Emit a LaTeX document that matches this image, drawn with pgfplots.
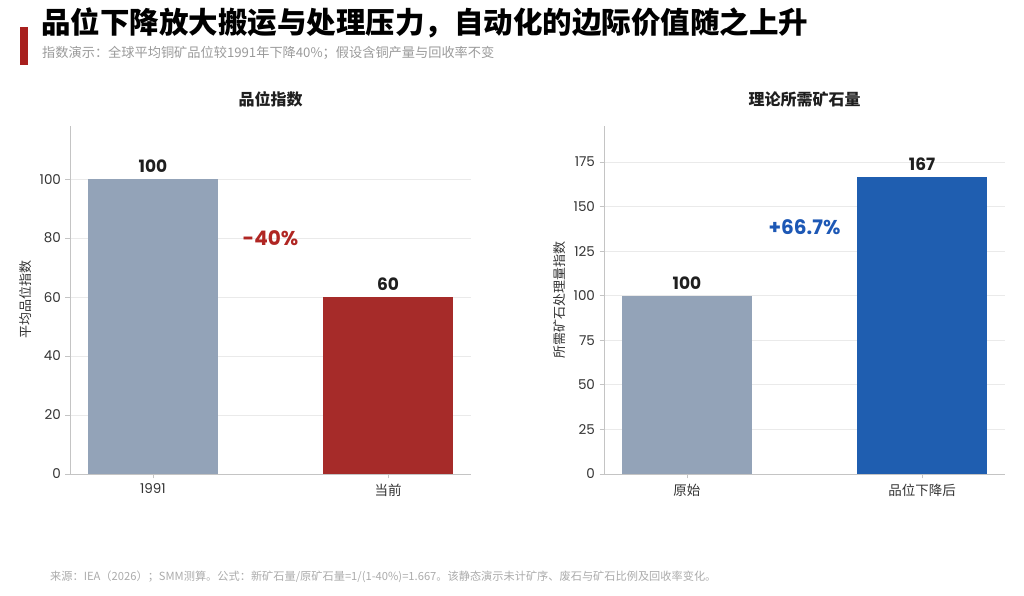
\documentclass[border=0pt]{standalone}
\usepackage{pgfplots}
\pgfplotsset{compat=1.18}
\usepackage{fontspec}
\setmainfont{Poppins}
\newfontfamily\cjk{Noto Sans CJK SC}
\definecolor{titlered}{HTML}{A8201E}
\definecolor{bargrey}{HTML}{93A3B8}
\definecolor{barred}{HTML}{A62B29}
\definecolor{barblue}{HTML}{1F5EB0}
\definecolor{annred}{HTML}{B02623}
\definecolor{annblue}{HTML}{1D58B5}
\definecolor{axisgrey}{HTML}{C4C4C4}
\definecolor{gridgrey}{HTML}{EAEAEA}
\definecolor{txt}{HTML}{333333}
\pgfplotsset{
  /pgf/number format/assume math mode=true,
  panel/.style={
    scale only axis, width=401pt, height=348pt,
    xmin=-0.353, xmax=1.353, ymin=0,
    xtick={0,1},
    axis x line*=bottom, axis y line*=left,
    axis line style={draw=axisgrey, line width=0.9pt, -},
    tick style={draw=axisgrey, line width=0.9pt},
    tick align=outside, major tick length=4.5pt,
    ymajorgrids, grid style={draw=gridgrey, line width=0.9pt},
    ticklabel style={font=\fontsize{13.5}{15}\selectfont, text=txt},
    yticklabel style={xshift=-1pt},
    xticklabel style={yshift=-2pt},
    title style={at={(0.5,1)}, anchor=center, yshift=21pt, font=\cjk\bfseries\fontsize{16}{19}\selectfont, text=black!88},
    every axis y label/.style={at={(axis description cs:-0.11,0.5)}, rotate=90, anchor=center, font=\cjk\fontsize{13}{15}\selectfont, text=txt},
    ybar, bar width=0.55,
    nodes near coords,
    every node near coord/.append style={font=\bfseries\fontsize{17}{20}\selectfont, text=black!88, anchor=south, yshift=3pt, /pgf/number format/fixed, /pgf/number format/precision=0},
  },
}
\begin{document}
\begin{tikzpicture}
\path (0pt,0pt) rectangle (1024pt,596pt);
% header
\fill[titlered] (20pt,531pt) rectangle (28pt,569pt);
\node[anchor=west, inner sep=0pt] at (41pt,573pt) {\cjk\bfseries\fontsize{29.5}{32}\selectfont 品位下降放大搬运与处理压力，自动化的边际价值随之上升};
\node[anchor=west, inner sep=0pt] at (42pt,543pt) {\cjk\fontsize{13.2}{15}\selectfont\color[HTML]{9A9A9A} 指数演示：全球平均铜矿品位较1991年下降40\%；假设含铜产量与回收率不变};
\node[anchor=west, inner sep=0pt] at (50pt,19pt) {\cjk\fontsize{11.2}{13}\selectfont\color[HTML]{ABABAB} 来源：IEA（2026）；SMM测算。公式：新矿石量/原矿石量=1/(1-40\%)=1.667。该静态演示未计矿序、废石与矿石比例及回收率变化。};
% left panel
\begin{axis}[panel, at={(70pt,122pt)}, anchor=south west,
  ymax=118, ytick={0,20,40,60,80,100},
  xticklabels={1991,{\cjk 当前}},
  title={品位指数}, ylabel={平均品位指数}]
\addplot[fill=bargrey, draw=none, bar shift=0pt] coordinates {(0,100)};
\addplot[fill=barred, draw=none, bar shift=0pt] coordinates {(1,60)};
\node[font=\bfseries\fontsize{20}{24}\selectfont, text=annred] at (axis cs:0.5,80) {-40\%};
\end{axis}
% right panel
\begin{axis}[panel, at={(604pt,122pt)}, anchor=south west,
  ymax=195.2, ytick={0,25,50,75,100,125,150,175},
  xticklabels={{\cjk 原始},{\cjk 品位下降后}},
  title={理论所需矿石量}, ylabel={所需矿石处理量指数}]
\addplot[fill=bargrey, draw=none, bar shift=0pt] coordinates {(0,100)};
\addplot[fill=barblue, draw=none, bar shift=0pt] coordinates {(1,166.7)};
\node[font=\bfseries\fontsize{20}{24}\selectfont, text=annblue] at (axis cs:0.5,138.5) {+66.7\%};
\end{axis}
\end{tikzpicture}
\end{document}
